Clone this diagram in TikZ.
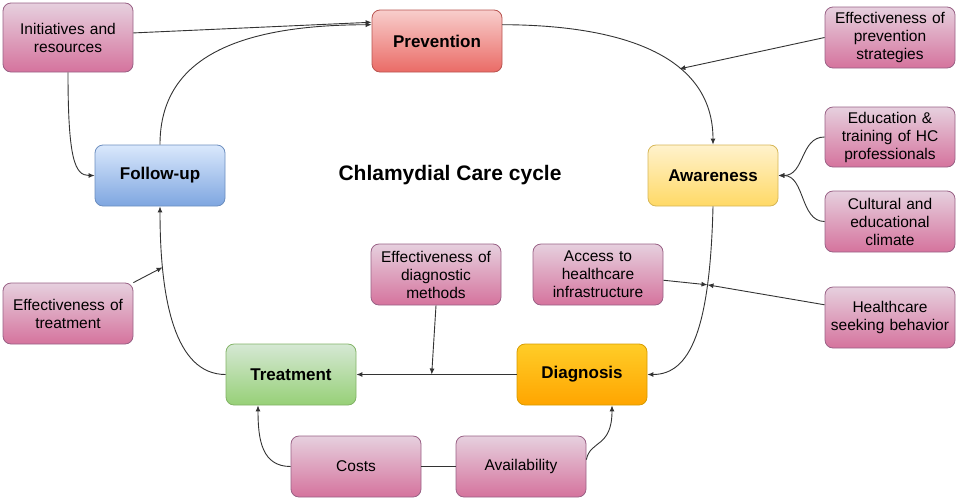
\documentclass[tikz,border=0pt]{standalone}
\usepackage{fontspec}
\setmainfont{Liberation Sans}
\usetikzlibrary{arrows.meta,calc}
\definecolor{pinkT}{HTML}{E6D0DE}
\definecolor{pinkB}{HTML}{D5739D}
\definecolor{pinkD}{HTML}{996185}
\definecolor{redT}{HTML}{F8CECC}
\definecolor{redB}{HTML}{EA6B66}
\definecolor{redD}{HTML}{B85450}
\definecolor{blueT}{HTML}{DAE8FC}
\definecolor{blueB}{HTML}{7EA6E0}
\definecolor{blueD}{HTML}{6C8EBF}
\definecolor{yelT}{HTML}{FFF2CC}
\definecolor{yelB}{HTML}{FFD966}
\definecolor{yelD}{HTML}{D6B656}
\definecolor{grnT}{HTML}{D5E8D4}
\definecolor{grnB}{HTML}{97D077}
\definecolor{grnD}{HTML}{82B366}
\definecolor{orT}{HTML}{FFCD28}
\definecolor{orB}{HTML}{FFA500}
\definecolor{orD}{HTML}{D79B00}
\definecolor{lineC}{HTML}{333333}
\begin{document}
\begin{tikzpicture}[x=1pt,y=-1pt,
  box/.style={rounded corners=8pt, minimum width=130pt, minimum height=61pt,
    inner sep=1pt, align=center, text width=128pt, line width=0.8pt,
    font=\fontsize{15.5}{18}\selectfont},
  factor/.style={box, top color=pinkT, bottom color=pinkB, draw=pinkD},
  stage/.style={box, font=\bfseries\fontsize{17}{20}\selectfont},
  arr/.style={draw=lineC, line width=0.9pt, -{Latex[length=6pt,width=5pt]}},
  ln/.style={draw=lineC, line width=0.9pt}]
\useasboundingbox (0,0) rectangle (957,501);

% factor boxes
\node[factor, minimum height=69pt] (init) at (68,37.5) {Initiatives and\\resources};
\node[factor] (eps) at (890,37.5) {Effectiveness of\\prevention\\strategies};
\node[factor, minimum height=60pt] (edu) at (890,137) {Education \&\\training of HC\\professionals};
\node[factor] (cult) at (890,221.5) {Cultural and\\educational\\climate};
\node[factor] (edm) at (436,274.5) {Effectiveness of\\diagnostic\\methods};
\node[factor] (acc) at (598,274.5) {Access to\\healthcare\\infrastructure};
\node[factor] (hsb) at (890,317.5) {Healthcare\\seeking behavior};
\node[factor] (efftr) at (68,313.5) {Effectiveness of\\treatment};
\node[factor] (costs) at (356,466.5) {Costs};
\node[factor] (av) at (521,466.5) {Availability};

% stage boxes
\node[stage, minimum height=62pt, top color=redT, bottom color=redB, draw=redD] (prev) at (437,41) {Prevention};
\node[stage, top color=blueT, bottom color=blueB, draw=blueD] (fu) at (160,175.5) {Follow-up};
\node[stage, top color=yelT, bottom color=yelB, draw=yelD] (aw) at (713,175.5) {Awareness};
\node[stage, top color=grnT, bottom color=grnB, draw=grnD] (treat) at (291,374.5) {Treatment};
\node[stage, top color=orT, bottom color=orB, draw=orD] (dia) at (582,374.5) {Diagnosis};

% title
\node[font=\bfseries\fontsize{21}{25}\selectfont] (title) at (450,175) {Chlamydial Care cycle};

% connectors
\draw[arr] (init.4) -- (prev.164);
\draw[arr] (init.south) .. controls (68,160) and (75,175.5) .. (fu.west);
\draw[arr] (fu.north) .. controls (160,65) and (225,25) .. (prev.166);
\draw[arr] (prev.14) .. controls (610,25) and (713,50) .. (aw.north) coordinate[pos=0.65] (j1);
\draw[arr] (eps.west) -- (j1);
\draw[arr] (edu.west) .. controls (800,137) and (805,175.5) .. (aw.east);
\draw[arr] (cult.west) .. controls (800,221.5) and (805,175.5) .. (aw.east);
\draw[arr] (aw.south) .. controls (710,330) and (690,374.5) .. (dia.east) coordinate[pos=0.25] (j2);
\draw[arr] (acc.-5) -- (j2);
\draw[arr] (hsb.169) -- (j2);
\draw[arr] (dia.west) -- (treat.east) coordinate[pos=0.53] (j3);
\draw[arr] (edm.south) -- (j3);
\draw[arr] (treat.west) .. controls (175,374.5) and (160,300) .. (fu.south) coordinate[pos=0.77] (j4);
\draw[arr] (efftr.north east) -- (j4);
\draw[arr] (costs.west) .. controls (262,466.5) and (258,440) .. ([xshift=-33pt]treat.south);
\draw[ln] (costs.east) -- (av.west);
\draw[arr] (av.6) .. controls (590,440) and (612,448) .. ([xshift=30pt]dia.south);
\end{tikzpicture}
\end{document}
